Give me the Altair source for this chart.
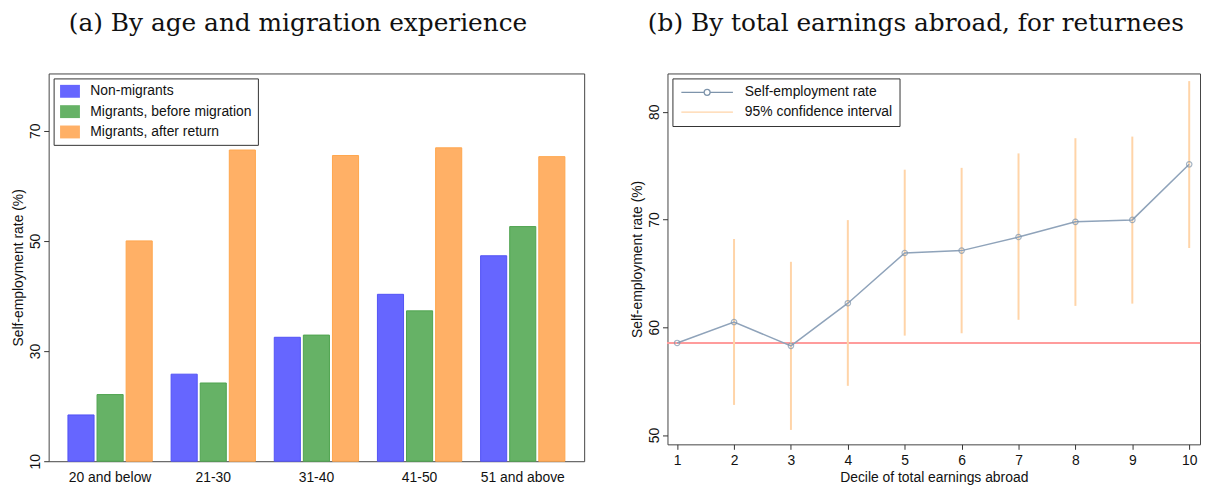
import altair as alt
import pandas as pd

# ---------------- data ----------------
groups = ["20 and below", "21-30", "31-40", "41-50", "51 and above"]
series_a = ["Non-migrants", "Migrants, before migration", "Migrants, after return"]
non_migrants = [18.4, 25.8, 32.5, 40.3, 47.3]
before_migration = [22.1, 24.2, 32.9, 37.3, 52.6]
after_return = [50.0, 66.5, 65.5, 66.9, 65.3]

deciles = [1, 2, 3, 4, 5, 6, 7, 8, 9, 10]
rate = [58.55, 60.49, 58.28, 62.24, 66.90, 67.12, 68.38, 69.79, 69.97, 75.13]
ci_low = [None, 52.8, 50.48, 54.57, 59.23, 59.45, 60.70, 61.99, 62.20, 67.36]
ci_high = [None, 68.2, 66.08, 69.95, 74.63, 74.80, 76.14, 77.55, 77.70, 82.85]
reference_rate = 58.55
series_b = ["Self-employment rate", "95% confidence interval"]

# ---------------- styling ----------------
FONT = "Liberation Sans"
TITLE_FONT = "DejaVu Serif"
fills = ["#6666FF", "#66B266", "#FFB066"]
strokes = ["#5252F5", "#4FA44F", "#FFA64D"]
LINE_C = "#8FA3BA"
POINT_C = "#7E94AB"
CI_C = "#FFD4A8"
REF_C = "#FF9C9C"

# ---------------- panel (a) ----------------
rows = []
for i, g in enumerate(groups):
    for s, vals in zip(series_a, [non_migrants, before_migration, after_return]):
        rows.append({"group": g, "series_a": s, "value": vals[i]})
df_a = pd.DataFrame(rows)

# 13px symbol box (size 169 -> 6.5px per unit); rectangle 20px wide x 13px tall
rect_path = "M-1,-1H2.08V1H-1Z"
legend_a = alt.Legend(
    title=None, orient="top-left", offset=5, padding=6, rowPadding=6.5,
    labelOffset=17, labelFontSize=14, labelFont=FONT, labelColor="#111",
    labelLimit=400, symbolType=rect_path, symbolSize=169, symbolOpacity=1,
    strokeColor="#333", fillColor="white", symbolStrokeWidth=0,
)

bars = alt.Chart(df_a).mark_bar(strokeWidth=1, opacity=1).encode(
    x=alt.X("group:N", sort=groups, title=None,
            scale=alt.Scale(paddingInner=0.183, paddingOuter=0.187),
            axis=alt.Axis(ticks=False, labelPadding=9, labelFontSize=14, labelAngle=0)),
    xOffset=alt.XOffset("series_a:N", sort=series_a,
                        scale=alt.Scale(paddingInner=0.103, paddingOuter=0)),
    y=alt.Y("value:Q", title="Self-employment rate (%)",
            scale=alt.Scale(domain=[10, 80.4], nice=False, zero=False),
            axis=alt.Axis(values=[10, 30, 50, 70], labelAngle=-90, labelAlign="center",
                          labelBaseline="bottom", labelPadding=1, labelFontSize=14,
                          titleFontSize=14, titlePadding=3)),
    y2=alt.datum(10),
    color=alt.Color("series_a:N", sort=series_a,
                    scale=alt.Scale(domain=series_a, range=fills), legend=legend_a),
    stroke=alt.Stroke("series_a:N", sort=series_a,
                      scale=alt.Scale(domain=series_a, range=strokes), legend=None),
).properties(
    width=540, height=391,
    title=alt.TitleParams("(a) By age and migration experience", font=TITLE_FONT,
                          fontSize=25, fontWeight="normal", offset=38, anchor="middle",
                          frame="bounds", color="#111"),
)

# ---------------- panel (b) ----------------
df_b = pd.DataFrame({"decile": deciles, "rate": rate, "lo": ci_low, "hi": ci_high})
df_ci = df_b.dropna()

xb = alt.X("decile:Q", title="Decile of total earnings abroad",
           scale=alt.Scale(domain=[0.83, 10.19], nice=False, zero=False),
           axis=alt.Axis(values=deciles, labelFontSize=14, titleFontSize=14,
                         labelPadding=4, titlePadding=3, format="d"))
yb = alt.Y("rate:Q", title="Self-employment rate (%)",
           scale=alt.Scale(domain=[49.14, 83.56], nice=False, zero=False),
           axis=alt.Axis(values=[50, 60, 70, 80], labelAngle=-90, labelAlign="center",
                         labelBaseline="bottom", labelPadding=1, labelFontSize=14,
                         titleFontSize=14, titlePadding=3))

ref = alt.Chart(df_b).mark_rule(color=REF_C, strokeWidth=2).encode(
    y=alt.datum(reference_rate))

ci = alt.Chart(df_ci).mark_rule(color=CI_C, strokeWidth=2).encode(
    x=xb, y=alt.Y("lo:Q"), y2="hi:Q")

line = alt.Chart(df_b).mark_line(color=LINE_C, strokeWidth=1.5).encode(x=xb, y=yb)
pts = alt.Chart(df_b).mark_point(color=POINT_C, filled=False, size=30,
                                 strokeWidth=1.2).encode(x=xb, y=yb)

# 10px symbol box (size 100 -> 5px per unit); line 52px long with a circle in the middle
rate_sym = ("M-1,0H3.6M4.8,0H9.4M3.6,0A0.6,0.6,0,1,0,4.8,0"
            "A0.6,0.6,0,1,0,3.6,0")
ci_sym = "M-1,0H9.4"
legend_b = alt.Legend(
    title=None, orient="top-left", offset=5, padding=7, rowPadding=6,
    labelOffset=52, labelFontSize=14, labelFont=FONT, labelColor="#111",
    labelLimit=400, strokeColor="#333", fillColor="white", symbolStrokeWidth=1.3,
    symbolOpacity=1, symbolSize=100,
)
df_leg = pd.DataFrame({"series_b": series_b})
leg_layer = alt.Chart(df_leg).mark_point(filled=False, size=100, strokeWidth=1.3,
                                         clip=True).encode(
    x=alt.datum(-50), y=alt.datum(0),
    color=alt.Color("series_b:N", sort=series_b,
                    scale=alt.Scale(domain=series_b, range=[POINT_C, CI_C]),
                    legend=legend_b),
    shape=alt.Shape("series_b:N", sort=series_b,
                    scale=alt.Scale(domain=series_b, range=[rate_sym, ci_sym]),
                    legend=legend_b),
)

panel_b = alt.layer(ref, ci, line, pts, leg_layer).properties(
    width=537, height=374,
    title=alt.TitleParams("(b) By total earnings abroad, for returnees", font=TITLE_FONT,
                          fontSize=25, fontWeight="normal", offset=38, anchor="middle",
                          frame="bounds", color="#111"),
)

chart = alt.hconcat(bars, panel_b, spacing=45).resolve_scale(
    color="independent", shape="independent", stroke="independent",
    x="independent", y="independent",
).resolve_legend(
    color="independent", shape="independent",
).properties(
    padding={"left": 3, "top": 0, "right": 0, "bottom": 0},
).configure_view(
    stroke="#444", strokeWidth=1,
).configure_axis(
    domain=False, grid=False, tickSize=5, tickColor="#333", labelColor="#111",
    titleColor="#111", labelFont=FONT, titleFont=FONT, titleFontWeight="normal",
)

chart.save("out.html", embed_options={"renderer": "svg", "actions": False})
